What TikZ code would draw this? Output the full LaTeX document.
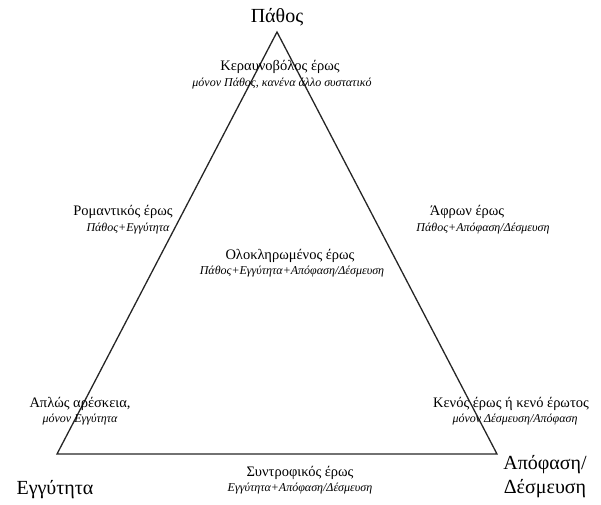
\documentclass[tikz,border=0pt]{standalone}
\usepackage{fontspec}
\setmainfont{Liberation Serif}
\tikzset{
  big/.style={font=\fontsize{20}{24}\selectfont, inner sep=0pt, align=center},
  head/.style={font=\fontsize{14.5}{16}\selectfont, inner sep=0pt},
  sub/.style={font=\fontsize{12}{14}\selectfont\itshape, inner sep=0pt},
  edge/.style={line width=1.3pt, draw=black!85}
}
\begin{document}
\begin{tikzpicture}[x=1pt,y=-1pt]
\useasboundingbox (0,0) rectangle (601,504);
\coordinate (A) at (277,32);
\coordinate (B) at (57,454);
\coordinate (C) at (497,454);
\draw[edge, line join=miter] (A) -- (B) -- (C) -- cycle;
\node[big] (pathos) at (277,17) {Πάθος};
\node[big] (engy) at (55,490) {Εγγύτητα};
\node[big] (apof) at (545,477) {Απόφαση/\\Δέσμευση};
\node[head] (ker) at (280,67) {Κεραυνοβόλος έρως};
\node[sub] (kers) at (282,84) {μόνον Πάθος, κανένα άλλο συστατικό};
\node[head] (rom) at (123,212) {Ρομαντικός έρως};
\node[sub] (roms) at (128,229) {Πάθος+Εγγύτητα};
\node[head] (olo) at (290,256) {Ολοκληρωμένος έρως};
\node[sub] (olos) at (292,272) {Πάθος+Εγγύτητα+Απόφαση/Δέσμευση};
\node[head] (afr) at (467,212) {Άφρων έρως};
\node[sub] (afrs) at (483,229) {Πάθος+Απόφαση/Δέσμευση};
\node[head] (apl) at (80,404) {Απλώς αρέσκεια,};
\node[sub] (apls) at (80,420) {μόνον Εγγύτητα};
\node[head] (ken) at (511,404) {Κενός έρως ή κενό έρωτος};
\node[sub] (kens) at (515,420) {μόνον Δέσμευση/Απόφαση};
\node[head] (syn) at (300,473) {Συντροφικός έρως};
\node[sub] (syns) at (300,489) {Εγγύτητα+Απόφαση/Δέσμευση};
\end{tikzpicture}
\end{document}
